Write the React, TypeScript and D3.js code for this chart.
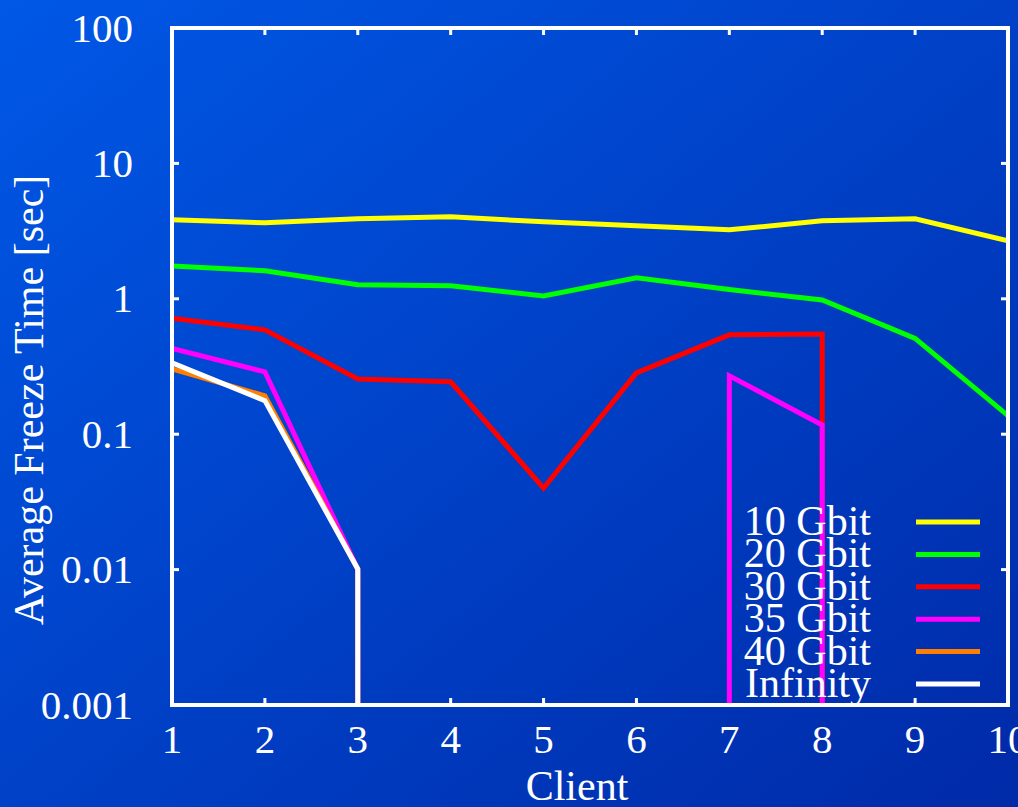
import React from "react";
import * as d3 from "d3";

const clients = [1, 2, 3, 4, 5, 6, 7, 8, 9, 10];
const gbit10 = [3.83, 3.64, 3.9, 4.03, 3.7, 3.46, 3.23, 3.77, 3.9, 2.68];
const gbit20 = [1.75, 1.61, 1.27, 1.25, 1.05, 1.43, 1.17, 0.98, 0.51, 0.137];
const gbit30 = [0.72, 0.59, 0.256, 0.244, 0.04, 0.284, 0.542, 0.55, 0, 0];
const gbit35 = [0.43, 0.289, 0.0101, 0, 0, 0, 0.27, 0.117, 0, 0];
const gbit40 = [0.304, 0.192, 0.0101, 0, 0, 0, 0, 0, 0, 0];
const infinity = [0.337, 0.177, 0.0101, 0, 0, 0, 0, 0, 0, 0];

const seriesNames = ["10 Gbit", "20 Gbit", "30 Gbit", "35 Gbit", "40 Gbit", "Infinity"];
const seriesColors = ["#ffff00", "#00ff00", "#ff0000", "#ff00ff", "#ff8000", "#ffffff"];
const seriesValues = [gbit10, gbit20, gbit30, gbit35, gbit40, infinity];

const yTicks = [0.001, 0.01, 0.1, 1, 10, 100];
const yTickLabels = ["0.001", "0.01", "0.1", "1", "10", "100"];
const xTicks = [1, 2, 3, 4, 5, 6, 7, 8, 9, 10];

const W = 1018;
const H = 807;
const L = 172, R = 1008, T = 28, B = 705;
const FONT = "'Liberation Serif', 'DejaVu Serif', serif";

export default function App() {
  const x = d3.scaleLinear().domain([1, 10]).range([L, R]);
  const y = d3.scaleLog().domain([0.001, 100]).range([B, T]);

  // Build path: valid-to-valid segments drawn as lines; a zero value drops vertically
  // to the bottom at the x of the neighbouring valid point (log-scale undefined).
  const buildPath = (vals: number[]) => {
    const p = d3.path();
    let penDown = false;
    for (let i = 0; i < vals.length; i++) {
      const v = vals[i];
      const valid = v > 0;
      if (valid) {
        const px = x(clients[i]);
        const py = y(v);
        if (!penDown) {
          if (i > 0 && !(vals[i - 1] > 0)) {
            p.moveTo(px, B + 4);
            p.lineTo(px, py);
          } else {
            p.moveTo(px, py);
          }
          penDown = true;
        } else {
          p.lineTo(px, py);
        }
      } else {
        if (penDown && i > 0) {
          const px = x(clients[i - 1]);
          p.lineTo(px, B + 4);
        }
        penDown = false;
      }
    }
    return p.toString();
  };

  const legendY0 = 522;
  const legendDy = 32.4;

  return (
    <svg
      width={W}
      height={H}
      style={{ position: "fixed", left: 0, top: 0, display: "block" }}
    >
      <defs>
        <linearGradient id="bg" x1="0" y1="0" x2="1" y2="1">
          <stop offset="0%" stopColor="#0058e6" />
          <stop offset="100%" stopColor="#002aa8" />
        </linearGradient>
        <clipPath id="plotclip">
          <rect x={L} y={T} width={R - L} height={B - T} />
        </clipPath>
      </defs>
      <rect x={0} y={0} width={W} height={H} fill="url(#bg)" />

      {/* ticks */}
      {yTicks.map((t) => (
        <g key={"yt" + t}>
          <line x1={L} x2={L + 7} y1={y(t)} y2={y(t)} stroke="#fff" strokeWidth={3} />
          <line x1={R} x2={R - 7} y1={y(t)} y2={y(t)} stroke="#fff" strokeWidth={3} />
        </g>
      ))}
      {xTicks.map((t) => (
        <g key={"xt" + t}>
          <line x1={x(t)} x2={x(t)} y1={B} y2={B - 7} stroke="#fff" strokeWidth={3} />
          <line x1={x(t)} x2={x(t)} y1={T} y2={T + 7} stroke="#fff" strokeWidth={3} />
        </g>
      ))}

      {/* series */}
      <g clipPath="url(#plotclip)">
        {seriesValues.map((vals, i) => (
          <path
            key={seriesNames[i]}
            d={buildPath(vals)}
            fill="none"
            stroke={seriesColors[i]}
            strokeWidth={5}
            strokeLinejoin="miter"
          />
        ))}
      </g>

      {/* frame */}
      <rect x={L} y={T} width={R - L} height={B - T} fill="none" stroke="#fff" strokeWidth={4} />

      {/* tick labels */}
      {yTicks.map((t, i) => (
        <text
          key={"yl" + t}
          x={133}
          y={y(t)}
          dy="0.33em"
          textAnchor="end"
          fill="#fff"
          fontFamily={FONT}
          fontSize={41}
        >
          {yTickLabels[i]}
        </text>
      ))}
      {xTicks.map((t) => (
        <text
          key={"xl" + t}
          x={x(t)}
          y={753}
          textAnchor="middle"
          fill="#fff"
          fontFamily={FONT}
          fontSize={41}
        >
          {t}
        </text>
      ))}

      {/* axis titles */}
      <text x={577} y={800} textAnchor="middle" fill="#fff" fontFamily={FONT} fontSize={42}>
        Client
      </text>
      <text
        transform={`translate(43,400) rotate(-90)`}
        textAnchor="middle"
        fill="#fff"
        fontFamily={FONT}
        fontSize={42}
      >
        Average Freeze Time [sec]
      </text>

      {/* legend */}
      {seriesNames.map((name, i) => {
        const ly = legendY0 + i * legendDy;
        return (
          <g key={"lg" + name}>
            <text
              x={871}
              y={ly + 13}
              textAnchor="end"
              fill="#fff"
              fontFamily={FONT}
              fontSize={42}
            >
              {name}
            </text>
            <line x1={916} x2={980} y1={ly} y2={ly} stroke={seriesColors[i]} strokeWidth={5} />
          </g>
        );
      })}
    </svg>
  );
}
